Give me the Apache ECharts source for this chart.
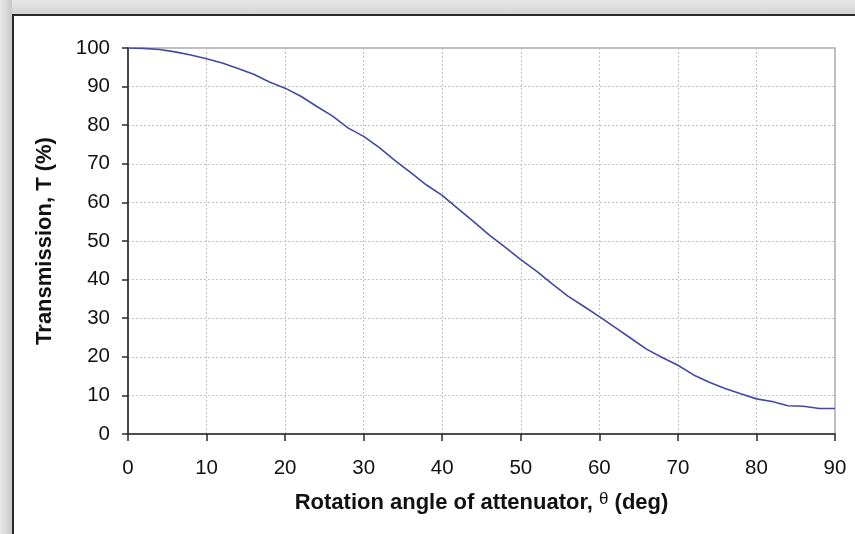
<!DOCTYPE html>
<html>
<head>
<meta charset="utf-8">
<script src="https://cdn.jsdelivr.net/npm/echarts@6/dist/echarts.min.js"></script>
<style>
html,body{margin:0;padding:0;width:855px;height:534px;overflow:hidden;}
body{background:linear-gradient(to bottom,#e8e8e8 0px,#d4d4d4 14px);position:relative;}
#shadowL{position:absolute;left:0;top:0;width:12px;height:534px;background:linear-gradient(to right,#e8e8e8 0px,#c8c8c8 12px);}
#frame{position:absolute;left:12px;top:14px;width:843px;height:520px;background:#fff;border-top:2px solid #2a2a2a;border-left:2px solid #2a2a2a;box-sizing:border-box;}
#chart{position:absolute;left:0;top:0;width:855px;height:534px;}
</style>
</head>
<body>
<div id="shadowL"></div>
<div id="frame"></div>
<div id="chart"></div>
<script>
// Rotation angle (deg)
var angles = [0,2,4,6,8,10,12,14,16,18,20,22,24,26,28,30,32,34,36,38,40,42,44,46,48,50,52,54,56,58,60,62,64,66,68,70,72,74,76,78,80,82,84,86,88,90];
// Transmission T (%)
var transmission = [100,99.9,99.6,99.0,98.2,97.2,96.1,94.7,93.2,91.2,89.6,87.5,84.9,82.4,79.3,77.1,74.2,70.8,67.7,64.5,61.8,58.4,55.0,51.5,48.4,45.2,42.2,38.9,35.7,33.1,30.4,27.6,24.8,22.0,19.8,17.8,15.3,13.4,11.8,10.4,9.1,8.4,7.3,7.2,6.6,6.6];
var xTicks = [0,10,20,30,40,50,60,70,80,90];
var yTicks = [0,10,20,30,40,50,60,70,80,90,100];

var pts = angles.map(function(a,i){return [a, transmission[i]];});
var chart = echarts.init(document.getElementById('chart'), null, {renderer:'canvas'});
var fontFam = '"Liberation Sans", Arial, sans-serif';
chart.setOption({
  backgroundColor: 'transparent',
  animation: false,
  grid: {left:128, top:48, right:20, bottom:100, show:true, borderColor:'#a8a8a8', borderWidth:1.5, backgroundColor:'transparent'},
  xAxis: {
    type:'value', min:0, max:90, interval:10,
    name:'{a|Rotation angle of attenuator, }{t|θ}{a| (deg)}',
    nameLocation:'middle', nameGap:57,
    nameTextStyle:{rich:{
      a:{fontFamily:fontFam,fontWeight:'bold',fontSize:22,color:'#111'},
      t:{fontFamily:fontFam,fontSize:17,color:'#111',padding:[0,0,7,0]}
    }},
    axisLine:{show:true,onZero:false,lineStyle:{color:'#2a2a2a',width:1.6}},
    axisTick:{show:true,inside:false,length:7,lineStyle:{color:'#2a2a2a',width:1.5}},
    axisLabel:{fontFamily:fontFam,fontSize:20.5,color:'#111',margin:24,
      formatter:function(v){return xTicks.indexOf(v)>=0?String(v):'';}},
    splitLine:{show:true,lineStyle:{color:'#c4c4c4',type:[2,2],width:1}}
  },
  yAxis: {
    type:'value', min:0, max:100, interval:10,
    name:'Transmission, T (%)',
    nameLocation:'middle', nameGap:72, nameRotate:90,
    nameTextStyle:{fontFamily:fontFam,fontWeight:'bold',fontSize:22,color:'#111'},
    axisLine:{show:true,onZero:false,lineStyle:{color:'#2a2a2a',width:1.6}},
    axisTick:{show:true,inside:false,length:6,lineStyle:{color:'#2a2a2a',width:1.5}},
    axisLabel:{fontFamily:fontFam,fontSize:20.5,color:'#111',margin:18,
      formatter:function(v){return yTicks.indexOf(v)>=0?String(v):'';}},
    splitLine:{show:true,lineStyle:{color:'#c4c4c4',type:[2,2],width:1}}
  },
  series: [{
    type:'line', data:pts, showSymbol:false, symbol:'none', smooth:false,
    lineStyle:{color:'#4349a3',width:1.6}
  }]
});
</script>
</body>
</html>
